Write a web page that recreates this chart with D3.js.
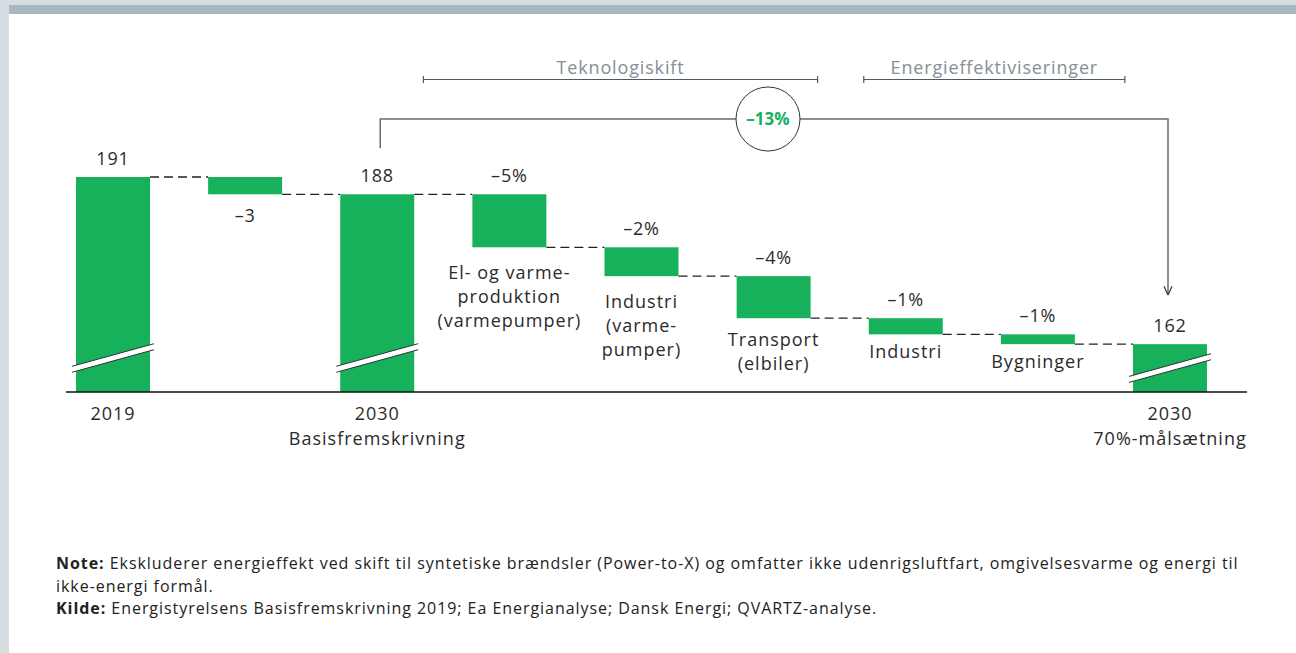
<!DOCTYPE html>
<html>
<head>
<meta charset="utf-8">
<script src="https://cdn.jsdelivr.net/npm/d3@7"></script>
<style>
  body { margin: 0; background: #fff; }
  svg { display: block; font-family: "Open Sans", sans-serif; }
</style>
</head>
<body>
<svg id="chart" width="1296" height="653"></svg>
<script>
// waterfall data
var stepNames = ["2019", "Basis-ændring", "2030 Basisfremskrivning", "El- og varmeproduktion",
    "Industri (varmepumper)", "Transport (elbiler)", "Industri", "Bygninger", "2030 70%-målsætning"];
var stepTypes = ["total", "delta", "total", "delta", "delta", "delta", "delta", "delta", "total"];
var stepValues = [191, -3, 188, -9.2, -5.0, -7.3, -2.8, -1.7, 162];
var valueLabels = ["191", "–3", "188", "–5%", "–2%", "–4%", "–1%", "–1%", "162"];
var barLabels = [[], [], [], ["El- og varme-", "produktion", "(varmepumper)"], ["Industri", "(varme-", "pumper)"],
    ["Transport", "(elbiler)"], ["Industri"], ["Bygninger"], []];
var axisLabels = [["2019"], [], ["2030", "Basisfremskrivning"], [], [], [], [], [], ["2030", "70%-målsætning"]];
var axisFloor = 153.7; // broken axis, bars start here

var groups = [
    { name: "Teknologiskift", from: 3, to: 5 },
    { name: "Energieffektiviseringer", from: 6, to: 7 }
];
var totalChange = "–13%";

var noteLines = [
    [["Note:", true], [" Ekskluderer energieffekt ved skift til syntetiske brændsler (Power-to-X) og omfatter ikke udenrigsluftfart, omgivelsesvarme og energi til", false]],
    [["ikke-energi formål.", false]],
    [["Kilde:", true], [" Energistyrelsens Basisfremskrivning 2019; Ea Energianalyse; Dansk Energi; QVARTZ-analyse.", false]]
];

var green = "#17b05b", ink = "#2b2b2b";

var svg = d3.select("#chart");

// frame
svg.append("rect").attr("width", 1296).attr("height", 653).attr("fill", "#d6dee2");
svg.append("rect").attr("x", 9).attr("y", 14).attr("width", 1287).attr("height", 639).attr("fill", "#fff");
svg.append("rect").attr("x", 9).attr("y", 5).attr("width", 1287).attr("height", 9).attr("fill", "#a9b8c0");

var baseY = 392;

// running totals
var steps = [];
var running = 0;
stepValues.forEach(function (v, i) {
    var s = { name: stepNames[i], type: stepTypes[i], i: i };
    if (stepTypes[i] == "total") {
        s.start = axisFloor; s.end = v; running = v;
    } else {
        s.start = running; s.end = running + v; running = running + v;
    }
    steps.push(s);
});

var x = d3.scaleBand()
    .domain(stepNames)
    .range([76, 1207])
    .paddingInner(0.44)
    .paddingOuter(0);

var y = d3.scaleLinear()
    .domain([axisFloor, d3.max(stepValues)])
    .range([baseY, 177]);

var bw = x.bandwidth();

function barTop(d) { return y(Math.max(d.start, d.end)); }
function barBottom(d) { return y(Math.min(d.start, d.end)); }

var g = svg.append("g");

// dashed connectors
g.selectAll(".conn")
    .data(steps.slice(0, -1))
    .enter().append("line")
    .attr("x1", function (d) { return x(d.name) + bw; })
    .attr("x2", function (d) { return x(stepNames[d.i + 1]); })
    .attr("y1", function (d) { return y(d.end); })
    .attr("y2", function (d) { return y(d.end); })
    .attr("stroke", "#222")
    .attr("stroke-width", 1.3)
    .attr("stroke-dasharray", "9,5");

// bars
g.selectAll(".bar")
    .data(steps)
    .enter().append("rect")
    .attr("x", function (d) { return x(d.name); })
    .attr("y", barTop)
    .attr("width", bw)
    .attr("height", function (d) { return barBottom(d) - barTop(d); })
    .attr("fill", green);

// axis break marks on totals
var slope = -0.276, gap = 6;
steps.filter(function (d) { return d.type == "total"; }).forEach(function (d) {
    var h = barBottom(d) - barTop(d);
    var cy = baseY - Math.min(34, h / 2);
    var x0 = x(d.name) - 4, x1 = x(d.name) + bw + 4, cx = x(d.name) + bw / 2;
    var ya = cy + (x0 - cx) * slope, yb = cy + (x1 - cx) * slope;
    g.append("polygon")
        .attr("points", [[x0, ya - gap / 2], [x1, yb - gap / 2], [x1, yb + gap / 2], [x0, ya + gap / 2]].join(" "))
        .attr("fill", "#fff");
    [-gap / 2, gap / 2].forEach(function (o) {
        g.append("line")
            .attr("x1", x0).attr("y1", ya + o)
            .attr("x2", x1).attr("y2", yb + o)
            .attr("stroke", "#333").attr("stroke-width", 1);
    });
});

// value labels
g.selectAll(".val")
    .data(steps)
    .enter().append("text")
    .attr("x", function (d) { return x(d.name) + bw / 2; })
    .attr("y", function (d) {
        // delta without a category text gets its number below the bar
        if (d.type == "delta" && barLabels[d.i].length == 0) return barBottom(d) + 28;
        return barTop(d) - 12;
    })
    .attr("text-anchor", "middle")
    .attr("font-size", 18)
    .attr("letter-spacing", 0.8)
    .attr("fill", ink)
    .text(function (d) { return valueLabels[d.i]; });

// category labels under delta bars
steps.forEach(function (d) {
    var lines = barLabels[d.i];
    if (!lines.length) return;
    var t = g.append("text")
        .attr("text-anchor", "middle")
        .attr("font-size", 18)
        .attr("letter-spacing", 1)
        .attr("fill", ink);
    var y0 = barBottom(d) + 20 + 3.8 * lines.length;
    lines.forEach(function (l, k) {
        t.append("tspan")
            .attr("x", x(d.name) + bw / 2)
            .attr("y", y0 + k * 24)
            .text(l);
    });
});

// x axis
var xAxis = g.append("g")
    .attr("transform", "translate(0," + baseY + ")")
    .call(d3.axisBottom(x).tickSize(0).tickFormat(""));
xAxis.select(".domain").remove();
xAxis.append("line")
    .attr("x1", 66).attr("x2", 1247)
    .attr("stroke", "#111").attr("stroke-width", 1.5);
xAxis.selectAll(".tick text")
    .attr("font-family", "Open Sans, sans-serif")
    .attr("font-size", 18)
    .attr("letter-spacing", 1)
    .attr("fill", ink)
    .attr("dy", null)
    .each(function (n, i) {
        var t = d3.select(this);
        axisLabels[i].forEach(function (l, k) {
            t.append("tspan").attr("x", 0).attr("y", 28 + k * 25).text(l);
        });
    });

// group brackets
var by = 79.5;
groups.forEach(function (gr) {
    var left = x(stepNames[gr.from]), right = x(stepNames[gr.to]) + bw;
    var x0 = gr.from == 3 ? left - 49 : left - 5;
    var x1 = gr.from == 3 ? right + 7 : right + 50;
    var b = svg.append("g").attr("stroke", "#4b5b61").attr("stroke-width", 1.2);
    b.append("line").attr("x1", x0).attr("x2", x1).attr("y1", by).attr("y2", by);
    b.append("line").attr("x1", x0).attr("x2", x0).attr("y1", by - 3.5).attr("y2", by + 3.5);
    b.append("line").attr("x1", x1).attr("x2", x1).attr("y1", by - 3.5).attr("y2", by + 3.5);
    svg.append("text")
        .attr("x", (x0 + x1) / 2)
        .attr("y", 74)
        .attr("text-anchor", "middle")
        .attr("font-size", 18)
        .attr("letter-spacing", 0.85)
        .attr("fill", "#858f94")
        .text(gr.name);
});

// total change arrow from 2030 basis to 70% target
var fromBar = steps[2], toBar = steps[8];
var ax0 = x(fromBar.name) + bw / 2 + 3, ax1 = x(toBar.name) + bw / 2 - 2;
var ay = 119;
svg.append("defs").append("marker")
    .attr("id", "arrow")
    .attr("viewBox", "0 0 10 10")
    .attr("refX", 10).attr("refY", 5)
    .attr("markerWidth", 10).attr("markerHeight", 10)
    .attr("markerUnits", "userSpaceOnUse")
    .attr("orient", "auto")
    .append("path")
    .attr("d", "M1,1 L10,5 L1,9")
    .attr("fill", "none")
    .attr("stroke", "#333")
    .attr("stroke-width", 1.2);
svg.append("path")
    .attr("d", "M" + ax0 + "," + (barTop(fromBar) - 46) + " V" + ay + " H" + ax1 + " V" + (barTop(toBar) - 49))
    .attr("fill", "none")
    .attr("stroke", "#6b6b6b")
    .attr("stroke-width", 1.5)
    .attr("marker-end", "url(#arrow)");
var cx = 768;
svg.append("circle")
    .attr("cx", cx).attr("cy", ay).attr("r", 32)
    .attr("fill", "#fff")
    .attr("stroke", "#333")
    .attr("stroke-width", 1);
svg.append("text")
    .attr("x", cx).attr("y", ay + 6)
    .attr("text-anchor", "middle")
    .attr("font-size", 17)
    .attr("font-weight", 700)
    .attr("fill", green)
    .text(totalChange);

// notes
var notes = svg.append("text")
    .attr("font-size", 16)
    .attr("letter-spacing", 0.95)
    .attr("fill", "#222");
noteLines.forEach(function (parts, k) {
    var line = notes.append("tspan").attr("x", 56).attr("y", 569 + k * 22.5);
    parts.forEach(function (p, j) {
        var ts = j == 0 ? line : notes.append("tspan");
        ts.attr("font-weight", p[1] ? 700 : 400).text(p[0]);
    });
});
</script>
</body>
</html>
